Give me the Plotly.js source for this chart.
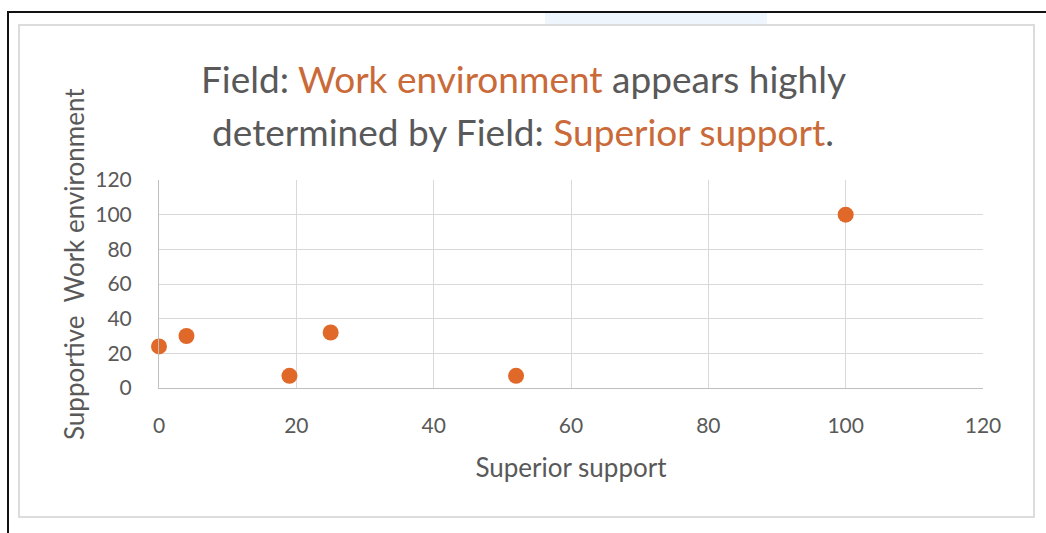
<!DOCTYPE html>
<html>
<head>
<meta charset="utf-8">
<script src="https://cdn.plot.ly/plotly-3.0.1.min.js"></script>
<style>
  html, body { margin: 0; padding: 0; background: #ffffff; overflow: hidden; }
  #wrap { position: relative; width: 1046px; height: 533px; }
  #chart { position: absolute; left: 0; top: 0; width: 1046px; height: 533px; }
  .frame-outer { position: absolute; left: 7px; top: 11px; width: 1100px; height: 600px;
    border-left: 2px solid #111; border-top: 2px solid #111; pointer-events: none; }
  .frame-inner { position: absolute; left: 18px; top: 24px; width: 1013px; height: 490px;
    border: 2px solid #dcdcdc; pointer-events: none; }
  .tab { position: absolute; left: 545px; top: 13px; width: 222px; height: 11px;
    background: #eef5fc; pointer-events: none; }
</style>
</head>
<body>
<div id="wrap">
  <div id="chart"></div>
  <div class="tab"></div>
  <div class="frame-inner"></div>
  <div class="frame-outer"></div>
</div>
<script>
// Data
const superiorSupport = [0, 4, 19, 25, 52, 100];
const workEnvironment = [24, 30, 7, 32, 7, 100];
const xTicks = [0, 20, 40, 60, 80, 100, 120];
const yTicks = [0, 20, 40, 60, 80, 100, 120];

const titleLine1 = 'Field: <span style="color:#c96a38">Work environment</span> appears highly';
const titleLine2 = 'determined by Field: <span style="color:#c96a38">Superior support</span>.';

const FONT = 'Lato, "Open Sans", sans-serif';
const GREY = '#595959';

const trace = {
  type: 'scatter',
  mode: 'markers',
  x: superiorSupport,
  y: workEnvironment,
  marker: { color: '#e0692a', size: 16, line: { width: 0 } },
  cliponaxis: false,
  hoverinfo: 'x+y'
};

const layout = {
  width: 1046,
  height: 533,
  margin: { l: 159, r: 63, t: 180, b: 145 },
  paper_bgcolor: '#ffffff',
  plot_bgcolor: '#ffffff',
  showlegend: false,
  font: { family: FONT, color: GREY },
  xaxis: {
    range: [0, 120],
    tickvals: xTicks,
    ticktext: xTicks.map(String),
    showgrid: true,
    gridcolor: '#d9d9d9',
    gridwidth: 1,
    zeroline: false,
    showline: true,
    linecolor: '#bfbfbf',
    linewidth: 1,
    ticks: '',
    ticklabelstandoff: 19,
    tickfont: { family: FONT, size: 21, color: GREY },
    title: { text: 'Superior support', font: { family: FONT, size: 26, color: GREY }, standoff: 22 }
  },
  yaxis: {
    range: [0, 120],
    tickvals: yTicks,
    ticktext: yTicks.map(String),
    showgrid: true,
    gridcolor: '#d9d9d9',
    gridwidth: 1,
    zeroline: false,
    showline: true,
    linecolor: '#bfbfbf',
    linewidth: 1,
    ticks: '',
    ticklabelstandoff: 22,
    tickfont: { family: FONT, size: 21, color: GREY }
  },
  annotations: [
    { text: titleLine1, xref: 'paper', yref: 'paper', x: 0.442, y: 1.0, xanchor: 'center', yanchor: 'middle',
      yshift: 102, showarrow: false, font: { family: FONT, size: 37, color: GREY } },
    { text: titleLine2, xref: 'paper', yref: 'paper', x: 0.442, y: 1.0, xanchor: 'center', yanchor: 'middle',
      yshift: 49, showarrow: false, font: { family: FONT, size: 37, color: GREY } },
    { text: 'Supportive  Work environment', xref: 'paper', yref: 'paper', x: 0, y: 0.5, xanchor: 'center', yanchor: 'middle',
      xshift: -85, yshift: 20, textangle: -90, showarrow: false, font: { family: FONT, size: 26, color: GREY } }
  ]
};

Plotly.newPlot('chart', [trace], layout, { displayModeBar: false, staticPlot: true });
</script>
</body>
</html>
